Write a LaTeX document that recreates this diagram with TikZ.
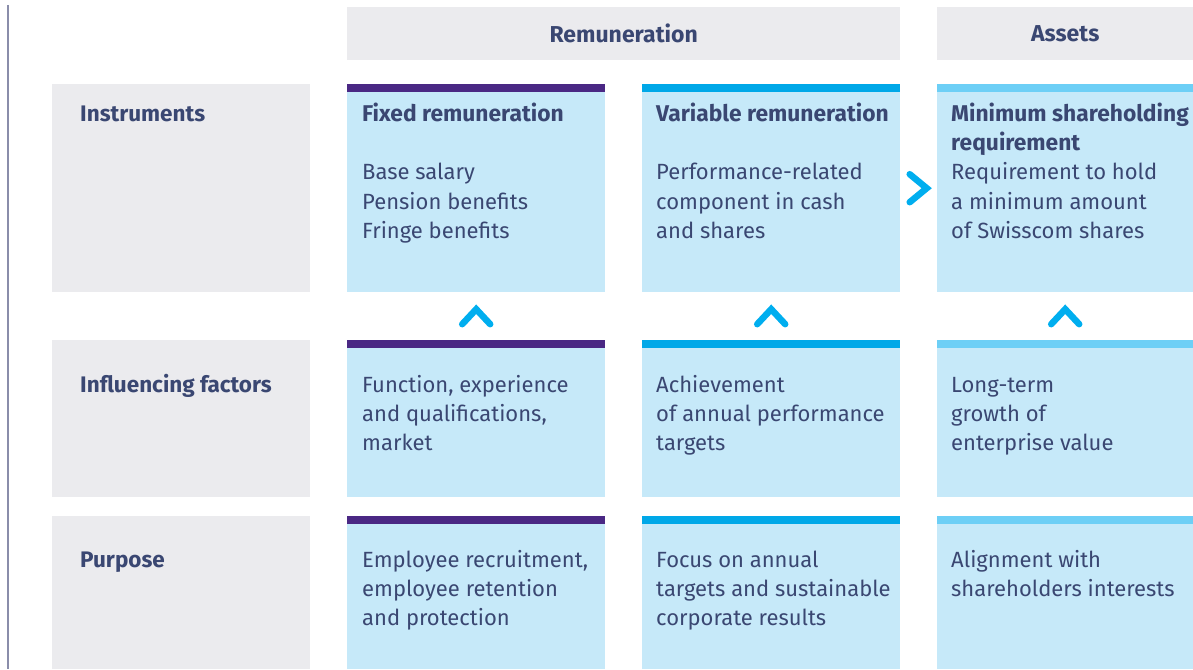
\documentclass[tikz,border=0pt]{standalone}
\usepackage{fontspec}
\setmainfont{Fira Sans}
\usetikzlibrary{calc}
\definecolor{grayfill}{HTML}{EBEBEE}
\definecolor{boxblue}{HTML}{C6E9F9}
\definecolor{barpurple}{HTML}{4A2884}
\definecolor{barcyan}{HTML}{00A8E8}
\definecolor{barlight}{HTML}{6DCFF6}
\definecolor{txt}{HTML}{3A4772}
\definecolor{chev}{HTML}{00AEEF}
\definecolor{vline}{HTML}{8A8DAA}
\tikzset{
  graybox/.style={rectangle, fill=grayfill, inner sep=0pt, anchor=north west},
  cellbox/.style={rectangle, fill=boxblue, inner sep=0pt, anchor=north west, minimum width=258pt},
  bodytxt/.style={inner sep=0pt, anchor=north west, align=left, text=txt,
    font=\fontsize{22}{29.3}\selectfont},
  labeltxt/.style={inner sep=0pt, anchor=base west, text=txt,
    font=\fontsize{22.5}{26}\selectfont\bfseries},
  headtxt/.style={inner sep=0pt, text=txt, font=\fontsize{23}{26}\selectfont\bfseries},
  chevron/.style={draw=chev, line width=6.5pt, line cap=round, line join=miter}
}
\newcommand{\fl}{\rule{0pt}{20pt}}
\newcommand{\tb}[1]{{\fontsize{22.8}{29.3}\selectfont\bfseries #1}}
\begin{document}
\begin{tikzpicture}[x=1pt,y=-1pt]
\useasboundingbox (0,0) rectangle (1193,669);
% vertical rule
\draw[vline, line width=1.8pt] (8,5) -- (8,669);
% headers
\node[graybox, minimum width=553pt, minimum height=53pt] (hrem) at (347,7) {};
\node[graybox, minimum width=256pt, minimum height=53pt] (hass) at (937,7) {};
\node[headtxt] (hremt) at (hrem.center) {Remuneration};
\node[headtxt] (hasst) at (hass.center) {Assets};
% row label boxes
\node[graybox, minimum width=258pt, minimum height=208pt] (l1) at (52,84) {};
\node[graybox, minimum width=258pt, minimum height=157pt] (l2) at (52,340) {};
\node[graybox, minimum width=258pt, minimum height=153pt] (l3) at (52,516) {};
\node[labeltxt] (l1t) at (80,121) {Instruments};
\node[labeltxt] (l2t) at (80,392) {Influencing factors};
\node[labeltxt] (l3t) at (80,567) {Purpose};
% cells row 1
\node[cellbox, minimum height=208pt] (a1) at (347,84) {};
\node[cellbox, minimum height=208pt] (b1) at (642,84) {};
\node[cellbox, minimum width=256pt, minimum height=208pt] (c1) at (937,84) {};
% cells row 2
\node[cellbox, minimum height=157pt] (a2) at (347,340) {};
\node[cellbox, minimum height=157pt] (b2) at (642,340) {};
\node[cellbox, minimum width=256pt, minimum height=157pt] (c2) at (937,340) {};
% cells row 3
\node[cellbox, minimum height=153pt] (a3) at (347,516) {};
\node[cellbox, minimum height=153pt] (b3) at (642,516) {};
\node[cellbox, minimum width=256pt, minimum height=153pt] (c3) at (937,516) {};
% top bars
\foreach \n/\c in {a1/barpurple,a2/barpurple,a3/barpurple,b1/barcyan,b2/barcyan,b3/barcyan,c1/barlight,c2/barlight,c3/barlight}{
  \fill[\c] (\n.north west) rectangle ($(\n.north east)+(0,8)$);
}
% texts row 1
\node[bodytxt] (a1t) at (362,101) {\fl\tb{Fixed remuneration}\\[29.3pt]Base salary\\Pension benefits\\Fringe benefits};
\node[bodytxt] (b1t) at (656,101) {\fl\tb{Variable remuneration}\\[29.3pt]Performance-related\\component in cash\\and shares};
\node[bodytxt] (c1t) at (951,101) {\fl\tb{Minimum shareholding}\\\tb{requirement}\\Requirement to hold\\a minimum amount\\of Swisscom shares};
% texts row 2
\node[bodytxt] (a2t) at (362,372) {\fl Function, experience\\and qualifications,\\market};
\node[bodytxt] (b2t) at (656,372) {\fl Achievement\\of annual performance\\targets};
\node[bodytxt] (c2t) at (951,372) {\fl Long-term\\growth of\\enterprise value};
% texts row 3
\node[bodytxt] (a3t) at (362,547) {\fl Employee recruitment,\\employee retention\\and protection};
\node[bodytxt] (b3t) at (656,547) {\fl Focus on annual\\targets and sustainable\\corporate results};
\node[bodytxt] (c3t) at (951,547) {\fl Alignment with\\shareholders interests};
% chevrons up
\foreach \u/\d in {a1/a2,b1/b2,c1/c2}{
  \coordinate (m\u) at ($(\u.south)!0.5!(\d.north)$);
  \draw[chevron] ($(m\u)+(-14,8)$) -- ($(m\u)+(0,-7)$) -- ($(m\u)+(14,8)$);
}
% chevron right
\coordinate (mr) at ($(b1.east)!0.5!(c1.west)$);
\draw[chevron] ($(mr)+(-9,-14)$) -- ($(mr)+(8,0)$) -- ($(mr)+(-9,14)$);
\end{tikzpicture}
\end{document}
